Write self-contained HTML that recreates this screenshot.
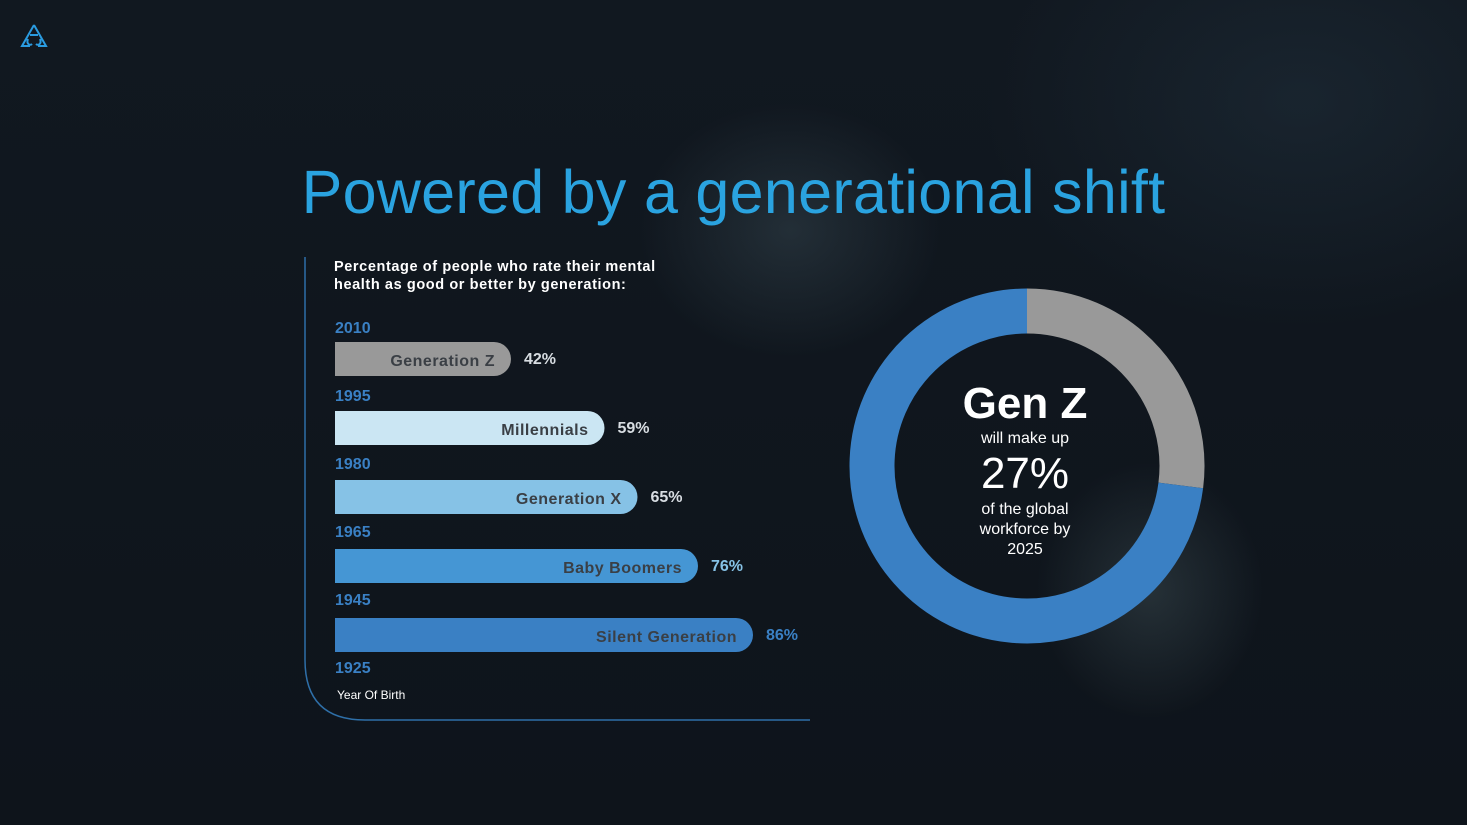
<!DOCTYPE html>
<html><head><meta charset="utf-8"><style>
html,body{margin:0;padding:0}
body{width:1467px;height:825px;overflow:hidden;position:relative;font-family:"Liberation Sans",sans-serif;
background:#0f151d;}
.bg{position:absolute;inset:0;background:
radial-gradient(ellipse 200px 170px at 790px 230px,rgba(70,90,100,0.35),transparent 75%),
radial-gradient(ellipse 150px 170px at 1150px 590px,rgba(80,100,105,0.35),transparent 75%),
radial-gradient(ellipse 420px 300px at 1300px 100px,rgba(40,60,75,0.35),transparent 75%),
linear-gradient(180deg,#111820,#0e141b);}
.t{position:absolute;white-space:nowrap}
</style></head><body>
<div class="bg"></div>
<svg class="t" style="left:20px;top:22px" width="30" height="28">
<path d="M14 3 L26 24 L18 24 M14 3 L2 24 L10 24 M8 17 C6 22 10 24 12 22 M20 17 C22 22 18 24 16 22 M10 13 L18 13" fill="none" stroke="#2a9be0" stroke-width="2"/>
</svg>
<div class="t" style="left:0;width:1467px;text-align:center;top:157px;font-size:61px;color:#2aa3e0;letter-spacing:0.3px">Powered by a generational shift</div>
<svg class="t" style="left:0;top:0" width="1467" height="825" id="chart">
<path d="M305 257 V660 Q305 720 365 720 H810" fill="none" stroke="#2e6fa8" stroke-width="1.5"/>
<text x="334" y="271" fill="#fff" font-size="14.5" font-weight="bold" letter-spacing="0.6">Percentage of people who rate their mental</text>
<text x="334" y="289" fill="#fff" font-size="14.5" font-weight="bold" letter-spacing="0.6">health as good or better by generation:</text>
<text x="337" y="699" fill="#fff" font-size="12">Year Of Birth</text>
</svg>
<svg class="t" style="left:0;top:0" width="1467" height="825" id="donut"></svg>
<div class="t" style="left:925px;width:200px;top:380px;text-align:center;color:#fff">
<div style="font-size:44px;font-weight:bold;line-height:48px">Gen Z</div>
<div style="font-size:16px;line-height:22px">will make up</div>
<div style="font-size:44px;line-height:48px">27%</div>
<div style="font-size:16px;line-height:20px;margin-top:2px">of the global<br>workforce by<br>2025</div>
</div>
<script>
const categories=["Generation Z","Millennials","Generation X","Baby Boomers","Silent Generation"];
const values=[42,59,65,76,86];
const years=["2010","1995","1980","1965","1945","1925"];
const colors=["#999999","#cbe6f3","#86c2e6","#4596d4","#3a80c4"];
const donutValues=[27,73];
const NS="http://www.w3.org/2000/svg";
const svg=document.getElementById('chart');
function xw(v){return (v-10)*5.5;}
function by(i){return 342+i*69;}
function mk(t,a,p){const e=document.createElementNS(NS,t);for(const k in a)e.setAttribute(k,a[k]);p.appendChild(e);return e;}
years.forEach((y,i)=>{
 const e=mk('text',{x:335,y:333+i*68,fill:'#3a80c4','font-size':16,'font-weight':'bold'},svg);
 e.textContent=y;
 
 
});
values.forEach((v,i)=>{
 const w=xw(v),y=by(i),h=34,r=17;
 const p=mk('path',{d:`M335 ${y} H${335+w-r} A${r} ${r} 0 0 1 ${335+w-r} ${y+h} H335 Z`,fill:colors[i]},svg);
 
 
 const l=mk('text',{x:335+w-16,y:y+24,fill:'#3a3f45','font-size':16,'font-weight':'bold','text-anchor':'end','letter-spacing':'0.5'},svg);
 l.textContent=categories[i];
 
 
 const vl=mk('text',{x:335+w+13,y:y+22,fill:i==4?'#3a80c4':(i==3?'#86c2e6':'#d8dde2'),'font-size':16,'font-weight':'bold'},svg);
 vl.textContent=v+'%';
 
 
});
const d=document.getElementById('donut');
const cx=1027,cy=466,R=155,sw=45;
const tot=donutValues.reduce((a,b)=>a+b,0);
let a0=0;
const dc=["#999999","#3a80c4"];
donutValues.forEach((v,i)=>{
 const a1=a0+v/tot*2*Math.PI;
 const x0=cx+R*Math.sin(a0),y0=cy-R*Math.cos(a0),x1=cx+R*Math.sin(a1),y1=cy-R*Math.cos(a1);
 const p=mk('path',{d:`M${x0} ${y0} A${R} ${R} 0 ${a1-a0>Math.PI?1:0} 1 ${x1} ${y1}`,fill:'none',stroke:dc[i],'stroke-width':sw},d);
 
 
 a0=a1;
});
</script>
</body></html>
